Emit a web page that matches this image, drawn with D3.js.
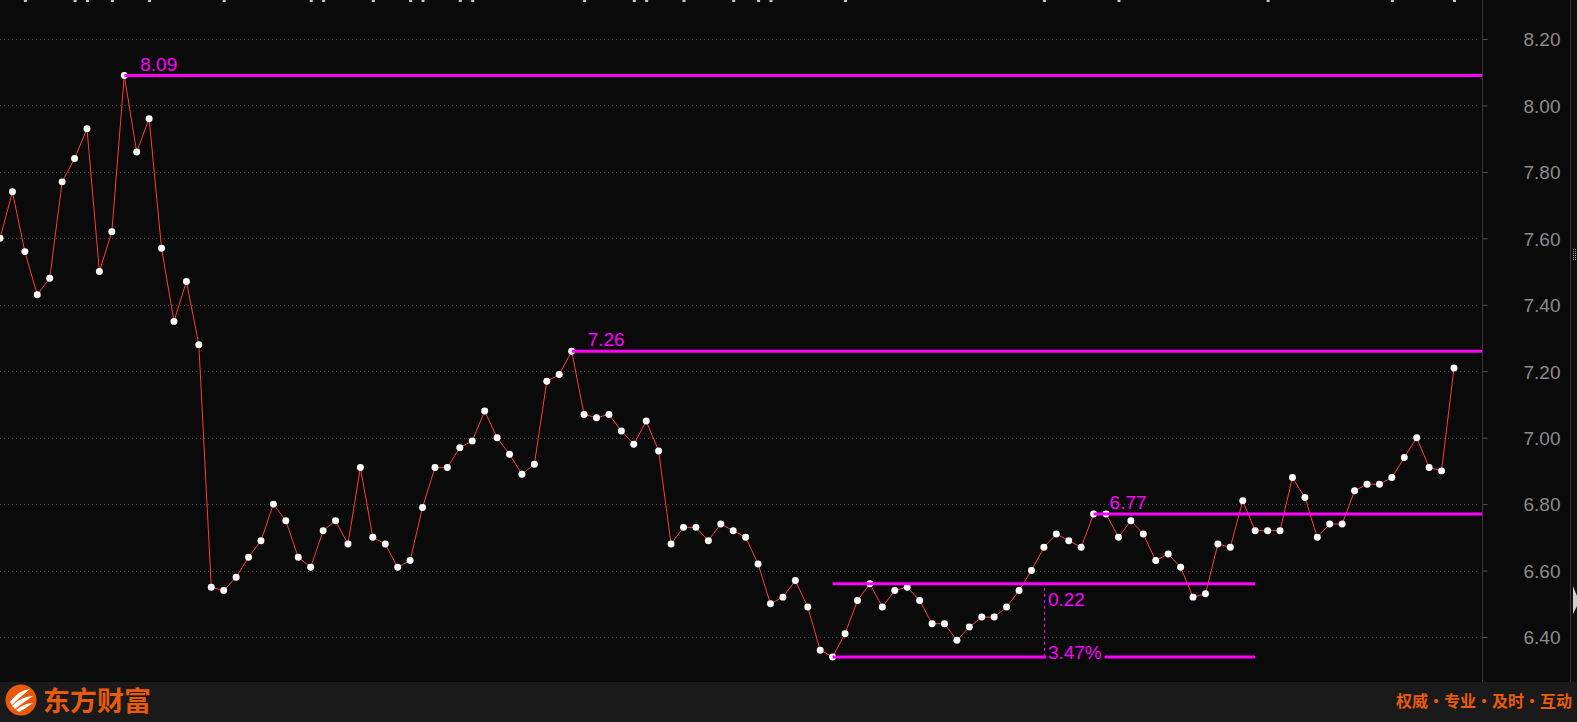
<!DOCTYPE html>
<html>
<head>
<meta charset="utf-8">
<script src="https://cdn.jsdelivr.net/npm/d3@7/dist/d3.min.js"></script>
<style>
  html, body { margin: 0; padding: 0; background: #0a0a0a; overflow: hidden; }
  svg { display: block; }
</style>
</head>
<body>
<svg id="chart" width="1577" height="722"></svg>
<script>
// ---------------- data ----------------
const prices = [
  7.60, 7.74, 7.56, 7.43, 7.48, 7.77, 7.84, 7.93, 7.50, 7.62,
  8.09, 7.86, 7.96, 7.57, 7.35, 7.47, 7.28, 6.55, 6.54, 6.58,
  6.64, 6.69, 6.80, 6.75, 6.64, 6.61, 6.72, 6.75, 6.68, 6.91,
  6.70, 6.68, 6.61, 6.63, 6.79, 6.91, 6.91, 6.97, 6.99, 7.08,
  7.00, 6.95, 6.89, 6.92, 7.17, 7.19, 7.26, 7.07, 7.06, 7.07,
  7.02, 6.98, 7.05, 6.96, 6.68, 6.73, 6.73, 6.69, 6.74, 6.72,
  6.70, 6.62, 6.50, 6.52, 6.57, 6.49, 6.36, 6.34, 6.41, 6.51,
  6.56, 6.49, 6.54, 6.55, 6.51, 6.44, 6.44, 6.39, 6.43, 6.46,
  6.46, 6.49, 6.54, 6.60, 6.67, 6.71, 6.69, 6.67, 6.77, 6.77,
  6.70, 6.75, 6.71, 6.63, 6.65, 6.61, 6.52, 6.53, 6.68, 6.67,
  6.81, 6.72, 6.72, 6.72, 6.88, 6.82, 6.70, 6.74, 6.74, 6.84,
  6.86, 6.86, 6.88, 6.94, 7.00, 6.91, 6.90, 7.21
];
const yTicks = [6.40, 6.60, 6.80, 7.00, 7.20, 7.40, 7.60, 7.80, 8.00, 8.20];
// horizontal price-level lines start at these bar indices and run to the axis
const levelIdx = [10, 46, 88];
// range measurement between two levels
const measureStartIdx = 67;
const measureEndIdx = 101;
const measureMidIdx = 84;
const measureHigh = 6.56;
const measureLow = 6.34;
// small marks clipped at the top edge (bar indices)
const topMarkIdx = [2, 6, 7, 9, 12, 18, 25, 26, 30, 33, 34, 37, 38, 47, 51, 52, 55, 59, 61, 62, 68, 84, 90, 102, 112, 117];
const brandName = "东方财富";
const slogan = "权威·专业·及时·互动";

// ---------------- layout ----------------
const W = 1577, H = 722;
const axisX = 1482;
const footerY = 682;
const svg = d3.select("#chart");

const x = d3.scaleLinear().domain([0, prices.length - 1]).range([0, 1454]);
const y = d3.scaleLinear().domain([6.40, 8.20]).range([637, 39]);

// background
svg.append("rect").attr("x", 0).attr("y", 0).attr("width", W).attr("height", H).attr("fill", "#0a0a0a");
svg.append("rect").attr("x", 1571).attr("y", 0).attr("width", 6).attr("height", footerY).attr("fill", "#0f0f0f");

// grid lines
svg.append("g").selectAll("line").data(yTicks).join("line")
  .attr("x1", 0).attr("x2", axisX - 2)
  .attr("y1", d => Math.round(y(d)) + 0.5).attr("y2", d => Math.round(y(d)) + 0.5)
  .attr("stroke", "#4a4a4a").attr("stroke-width", 1).attr("stroke-dasharray", "1,3");

// axis
const axis = d3.axisRight(y).tickValues(yTicks).tickFormat(d3.format(".2f")).tickSize(5).tickSizeOuter(0);
const ag = svg.append("g").attr("transform", `translate(${axisX + 0.5},0)`).call(axis);
ag.select(".domain").remove();
ag.selectAll(".tick line").attr("stroke", "#555");
ag.selectAll(".tick text")
  .attr("x", 78).attr("text-anchor", "end").attr("dy", "0.36em")
  .attr("fill", "#8c8c8c").style("font-family", "'Liberation Sans', Arial, sans-serif").style("font-size", "19px");
svg.append("line").attr("x1", axisX + 0.5).attr("x2", axisX + 0.5).attr("y1", 0).attr("y2", footerY)
  .attr("stroke", "#383838");
svg.append("line").attr("x1", 1570.5).attr("x2", 1570.5).attr("y1", 0).attr("y2", footerY)
  .attr("stroke", "#383838");

// right-edge grip & arrow
const grip = svg.append("g").attr("fill", "#9a9a9a");
for (let r = 0; r < 6; r++) for (let c = 0; c < 2; c++)
  grip.append("rect").attr("x", 1573 + c * 2).attr("y", 249 + r * 2).attr("width", 1).attr("height", 1);
svg.append("path").attr("d", "M1573,586 L1577,596 L1577,606 L1573,614 Z").attr("fill", "#d0d0d0");

// top marks
svg.append("g").selectAll("rect").data(topMarkIdx).join("rect")
  .attr("x", d => x(d) - 1).attr("y", 0).attr("width", 3).attr("height", 2).attr("fill", "#c8c8c8");

// price line
svg.append("path").datum(prices)
  .attr("d", d3.line().x((d, i) => x(i)).y(d => y(d)))
  .attr("fill", "none").attr("stroke", "#ff3b3b").attr("stroke-width", 1);

// markers
svg.append("g").selectAll("path").data(prices).join("path")
  .attr("transform", (d, i) => `translate(${x(i)},${y(d)})`)
  .attr("d", d3.symbol(d3.symbolCircle, 38))
  .attr("fill", "#ffffff");

// level lines
const mag = "#ff00ff";
const labelFont = "'Liberation Sans', Arial, sans-serif";
levelIdx.forEach(i => {
  const v = prices[i];
  svg.append("line").attr("x1", x(i)).attr("x2", axisX).attr("y1", y(v)).attr("y2", y(v))
    .attr("stroke", mag).attr("stroke-width", 3);
  svg.append("text").attr("x", x(i) + 16).attr("y", y(v) - 5)
    .attr("fill", mag).style("font-family", labelFont).style("font-size", "19px")
    .text(v.toFixed(2));
});

// measurement
const mx0 = x(measureStartIdx), mx1 = x(measureEndIdx), mxm = x(measureMidIdx);
const diff = measureHigh - measureLow;
svg.append("line").attr("x1", mx0).attr("x2", mx1).attr("y1", y(measureHigh)).attr("y2", y(measureHigh))
  .attr("stroke", mag).attr("stroke-width", 3);
svg.append("line").attr("x1", Math.round(mxm) + 0.5).attr("x2", Math.round(mxm) + 0.5)
  .attr("y1", y(measureHigh) + 4).attr("y2", y(measureLow))
  .attr("stroke", mag).attr("stroke-width", 1).attr("stroke-dasharray", "3,3");
svg.append("text").attr("x", mxm + 4).attr("y", y(measureHigh) + 22)
  .attr("fill", mag).style("font-family", labelFont).style("font-size", "19px")
  .text(diff.toFixed(2));
const pct = svg.append("text").attr("x", mxm + 4).attr("y", y(measureLow) + 2)
  .attr("fill", mag).style("font-family", labelFont).style("font-size", "19px")
  .text((diff / measureLow * 100).toFixed(2) + "%");
const pctEnd = mxm + 4 + pct.node().getComputedTextLength();
svg.append("line").attr("x1", mx0).attr("x2", mxm + 2).attr("y1", y(measureLow)).attr("y2", y(measureLow))
  .attr("stroke", mag).attr("stroke-width", 3);
svg.append("line").attr("x1", pctEnd + 3).attr("x2", mx1).attr("y1", y(measureLow)).attr("y2", y(measureLow))
  .attr("stroke", mag).attr("stroke-width", 3);

// footer
svg.append("rect").attr("x", 0).attr("y", footerY).attr("width", W).attr("height", H - footerY).attr("fill", "#1a1a1a");
const orange = "#ea5a0c";
const logo = svg.append("g").attr("transform", "translate(21,700)");
logo.append("circle").attr("r", 15.5).attr("fill", orange);
logo.append("path").attr("d", "M-11,2 Q-2,-10 9,-11 Q0,-4 -9,5 Z").attr("fill", "#fff");
logo.append("path").attr("d", "M-9,6 Q1,-4 12,-4 Q3,2 -6,9 Z").attr("fill", "#fff");
logo.append("path").attr("d", "M-5,10 Q4,3 12,3 Q5,8 -2,12 Z").attr("fill", "#fff");
svg.append("text").attr("x", 43).attr("y", 711)
  .attr("fill", orange).style("font-family", "'Noto Sans CJK SC', sans-serif")
  .style("font-size", "27px").style("font-weight", "bold").text(brandName);
svg.append("text").attr("x", 1572).attr("y", 707).attr("text-anchor", "end")
  .attr("fill", orange).style("font-family", "'Noto Sans CJK SC', sans-serif")
  .style("font-size", "16px").style("font-weight", "bold").text(slogan);
</script>
</body>
</html>
